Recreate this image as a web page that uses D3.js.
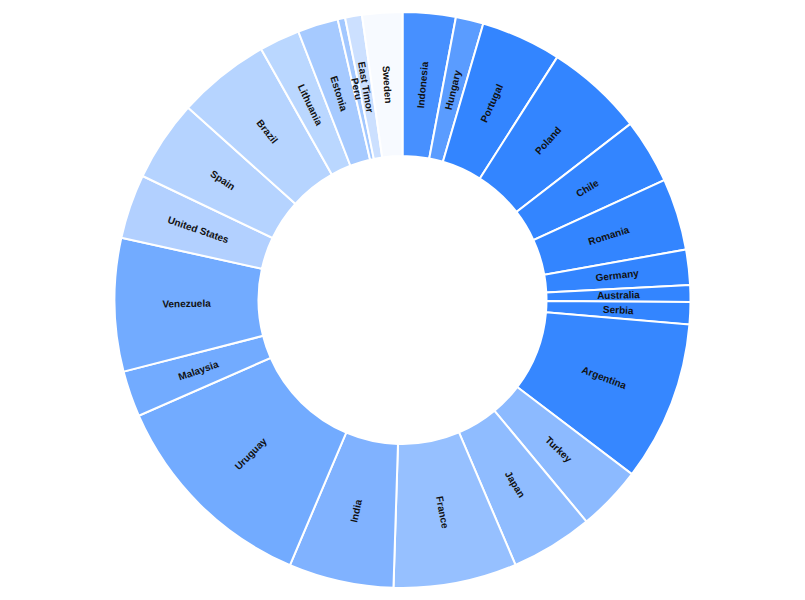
<!DOCTYPE html>
<html>
<head>
<meta charset="utf-8">
<script src="https://cdn.jsdelivr.net/npm/d3@7"></script>
<style>
  body { margin: 0; background: #fff; }
  svg { display: block; }
  .lbl { font-family: "Liberation Sans", Arial, sans-serif; font-size: 10px; font-weight: bold; fill: #111; }
</style>
</head>
<body>
<div id="chart"></div>
<script>
// slices, clockwise from 12 o'clock
const countries = ["Indonesia", "Hungary", "Portugal", "Poland", "Chile", "Romania",
  "Germany", "Australia", "Serbia", "Argentina", "Turkey", "Japan", "France", "India",
  "Uruguay", "Malaysia", "Venezuela", "United States", "Spain", "Brazil", "Lithuania",
  "Estonia", "Peru", "East Timor", "Sweden"];
const values = [10.7, 5.6, 16.2, 19.8, 13.1, 14.5, 7.1, 3.4, 4.5, 32.3, 13.1, 16.6,
  24.9, 21.2, 43.3, 9.3, 26.9, 13.0, 16.4, 18.7, 8.2, 8.2, 1.5, 3.4, 8.1];
const colors = ["#4790ff", "#5a9cff", "#3385ff", "#3385ff", "#3385ff", "#3385ff",
  "#3385ff", "#3385ff", "#3385ff", "#3687ff", "#8cbaff", "#8fbcff", "#96c0ff", "#80b2ff",
  "#72abff", "#72abff", "#72abff", "#b2d0ff", "#b5d3ff", "#b6d4ff", "#bad7ff",
  "#a6caff", "#a3c8ff", "#cce0ff", "#f7faff"];

const width = 805, height = 600;
const outer = 288, inner = 144;

const data = countries.map((c, i) => ({ name: c, value: values[i], color: colors[i] }));

const svg = d3.select("#chart").append("svg")
    .attr("width", width)
    .attr("height", height);

const g = svg.append("g")
    .attr("transform", "translate(" + width / 2 + "," + height / 2 + ")");

const pie = d3.pie().sort(null).value(d => d.value);
const arc = d3.arc().innerRadius(inner).outerRadius(outer);
const arcs = pie(data);

g.selectAll("path")
  .data(arcs)
  .enter().append("path")
    .attr("d", arc)
    .attr("fill", d => d.data.color)
    .attr("stroke", "#fff")
    .attr("stroke-width", 2);

// labels run along the radius, flipped on the left half
const mid = (inner + outer) / 2;
g.selectAll("text")
  .data(arcs)
  .enter().append("text")
    .attr("class", "lbl")
    .attr("transform", d => {
      const a = (d.startAngle + d.endAngle) / 2 * 180 / Math.PI;
      return "rotate(" + (a - 90) + ") translate(" + mid + ",0) rotate(" + (a < 180 ? 0 : 180) + ")";
    })
    .attr("dy", "0.35em")
    .attr("text-anchor", "middle")
    .text(d => d.data.name);
</script>
</body>
</html>
